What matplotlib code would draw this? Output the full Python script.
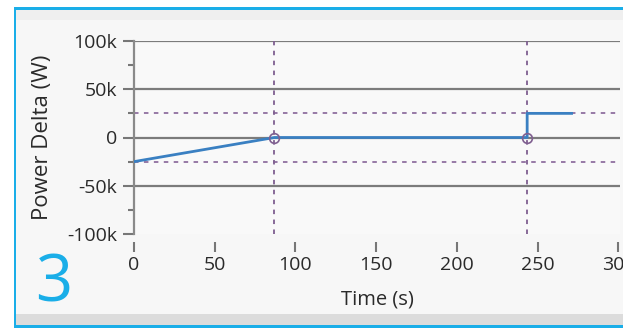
import matplotlib.pyplot as plt
from matplotlib.patches import Rectangle
from matplotlib.ticker import FuncFormatter, MultipleLocator

plt.rcParams["font.family"] = ["Open Sans", "DejaVu Sans"]

# power delta trace
time_s = [0, 87, 243.5, 243.5, 271]
power_delta = [-25000, 0, 0, 25000, 25000]

# cursors and limit bands
cursor_t = [87, 243.5]
cursor_p = [0, 0]
limits = [25000, -25000]

y_ticks = [-100000, -50000, 0, 50000, 100000]
x_ticks = [0, 50, 100, 150, 200, 250, 300]

W, H = 623, 328
fig = plt.figure(figsize=(W / 100, H / 100), dpi=100)
fig.patch.set_facecolor("white")

def px(x0, y0, x1, y1, color):
    fig.add_artist(Rectangle((x0 / W, 1 - y1 / H), (x1 - x0) / W, (y1 - y0) / H,
                             transform=fig.transFigure, facecolor=color,
                             edgecolor="none", zorder=0))

# panel frame
px(15, 9, W, 316, "#f7f7f7")
px(15, 9, W, 20, "#efefef")
px(15, 314, W, 325, "#dcdcdc")
px(14, 7, W, 10, "#1aaee8")
px(14, 7, 16, 328, "#1aaee8")
px(14, 325, W, 328, "#1aaee8")

ax = fig.add_axes([134 / W, 1 - 234 / H, (620 - 134) / W, (234 - 41) / H])
ax.set_facecolor("#f9f9f9")
ax.set_xlim(0, 301)
ax.set_ylim(-100000, 100000)

grid_c = "#7c7c7c"
for y in y_ticks[1:]:
    ax.axhline(y, color=grid_c, lw=1.6, zorder=1)

for y in limits:
    ax.axhline(y, color="#8f6fa0", lw=1.3, ls=(0, (2.5, 3)), zorder=2)
for t in cursor_t:
    ax.axvline(t, color="#7f5f90", lw=1.3, ls=(0, (2.5, 3)), zorder=2)

ax.plot(time_s, power_delta, color="#3a80c2", lw=2.0, zorder=3)
ax.plot(cursor_t, cursor_p, ls="none", marker="o", ms=7, mfc="none",
        mec="#7f5f90", mew=1.2, zorder=4)

for s in ["top", "right", "bottom"]:
    ax.spines[s].set_visible(False)
ax.spines["left"].set_color("#8a8a8a")
ax.spines["left"].set_linewidth(1.6)

txt_c = "#2a2a2a"
ax.set_yticks(y_ticks)
ax.yaxis.set_minor_locator(MultipleLocator(25000))
ax.yaxis.set_major_formatter(FuncFormatter(
    lambda v, p: "0" if v == 0 else f"{int(v / 1000)}k"))
ax.set_xticks(x_ticks)
ax.tick_params(axis="y", which="major", length=8, width=1.5, color="#777777",
               labelsize=14, labelcolor=txt_c, pad=4)
ax.tick_params(axis="y", which="minor", length=4, width=1.5, color="#777777")
ax.spines["bottom"].set_position(("outward", 6))
ax.tick_params(axis="x", length=7, width=1.5, direction="out", color="#777777",
               labelsize=14, labelcolor=txt_c, pad=3)

ax.set_xlabel("Time (s)", fontsize=14.5, color=txt_c, labelpad=11)
ax.set_ylabel("Power Delta (W)", fontsize=16, color=txt_c, labelpad=10)

fig.text(54 / W, 1 - 285 / H, "3", fontsize=47, color="#1aaee8",
         ha="center", va="center")

fig.savefig("out.png", dpi=100)
